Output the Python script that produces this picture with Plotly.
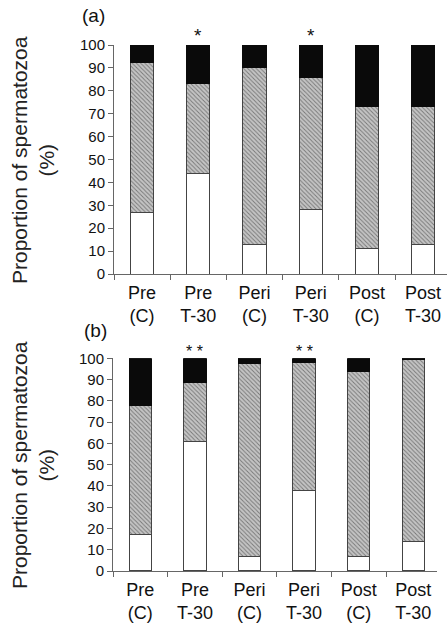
import plotly.graph_objects as go

categories = ["Pre<br>(C)", "Pre<br>T-30", "Peri<br>(C)", "Peri<br>T-30", "Post<br>(C)", "Post<br>T-30"]

# Panel (a): percentages per category (bottom white, middle hatched, top black)
a_white = [27, 44, 13, 28, 11, 13]
a_hatched = [65.5, 39, 77, 58, 62, 60]
a_black = [7.5, 17, 10, 14, 27, 27]
a_signif = ["", "*", "", "*", "", ""]

# Panel (b)
b_white = [17, 61, 7, 38, 7, 14]
b_hatched = [61, 27.5, 90.5, 60, 87, 85.5]
b_black = [22, 11.5, 2.5, 2, 6, 0.5]
b_signif = ["", "* *", "", "* *", "", ""]

W, H = 447, 625
FONT = "Liberation Sans, Arial, sans-serif"
OUT = "#444444"

fig = go.Figure()

def add_panel(white, hatched, black, xa, ya):
    common = dict(x=categories, xaxis=xa, yaxis=ya, width=0.41, showlegend=False)
    fig.add_trace(go.Bar(y=white, marker=dict(color="white", line=dict(color=OUT, width=1)), **common))
    fig.add_trace(go.Bar(y=hatched, marker=dict(color="#b4b4b4", line=dict(color=OUT, width=1),
                                                pattern=dict(shape="\\", fgcolor="#777777", bgcolor="#c4c4c4",
                                                             size=3, solidity=0.3)), **common))
    fig.add_trace(go.Bar(y=black, marker=dict(color="#0a0a0a", line=dict(color="#0a0a0a", width=1)), **common))

add_panel(a_white, a_hatched, a_black, "x", "y")
add_panel(b_white, b_hatched, b_black, "x2", "y2")

xcommon = dict(type="category", tickson="boundaries", ticks="outside", ticklen=5, tickcolor="#666",
               showline=True, linecolor="#666", linewidth=1, showgrid=False, zeroline=False,
               automargin=False, ticklabelstandoff=2,
               tickfont=dict(family=FONT, size=18, color="#111"), tickangle=0)
ycommon = dict(range=[0, 100], dtick=10, ticks="outside", ticklen=5, tickcolor="#666",
               showline=True, linecolor="#666", linewidth=1, showgrid=False, zeroline=False,
               automargin=False,
               tickfont=dict(family=FONT, size=15, color="#111"))

fig.update_layout(
    template="none",
    width=W, height=H, barmode="stack", bargap=0.59,
    paper_bgcolor="white", plot_bgcolor="white",
    margin=dict(l=0, r=0, t=0, b=0, pad=0),
    xaxis=dict(domain=[114 / W, 1.0], range=[-0.5, 5.425], anchor="y", **xcommon),
    yaxis=dict(domain=[1 - 274 / H, 1 - 45 / H], anchor="x", **ycommon),
    xaxis2=dict(domain=[113 / W, 437 / W], range=[-0.5, 5.434], anchor="y2", **xcommon),
    yaxis2=dict(domain=[1 - 571 / H, 1 - 358.3 / H], anchor="x2", **ycommon),
)

ann = []
for i, s in enumerate(a_signif):
    if s:
        ann.append(dict(x=categories[i], y=100, xref="x", yref="y", text=s, showarrow=False,
                        yanchor="bottom", yshift=-3, font=dict(family=FONT, size=19, color="#111")))
for i, s in enumerate(b_signif):
    if s:
        ann.append(dict(x=categories[i], y=100, xref="x2", yref="y2", text=s, showarrow=False,
                        yanchor="bottom", yshift=-4, font=dict(family=FONT, size=16, color="#111")))

ann.append(dict(x=93 / W, y=1 - 15 / H, xref="paper", yref="paper", text="(a)", showarrow=False,
                xanchor="center", yanchor="middle", font=dict(family=FONT, size=19, color="#111")))
ann.append(dict(x=95 / W, y=1 - 330 / H, xref="paper", yref="paper", text="(b)", showarrow=False,
                xanchor="center", yanchor="middle", font=dict(family=FONT, size=19, color="#111")))

for yc in [160, 465]:
    ann.append(dict(x=33 / W, y=1 - yc / H, xref="paper", yref="paper",
                    text="Proportion of spermatozoa<br>(%)", textangle=-90, showarrow=False,
                    xanchor="center", yanchor="middle", font=dict(family=FONT, size=21, color="#222")))

fig.update_layout(annotations=ann)
fig.write_html("out.html", config={"displayModeBar": False},
               post_script="document.body.style.margin='0';document.body.style.padding='0';document.body.style.overflow='hidden';")
